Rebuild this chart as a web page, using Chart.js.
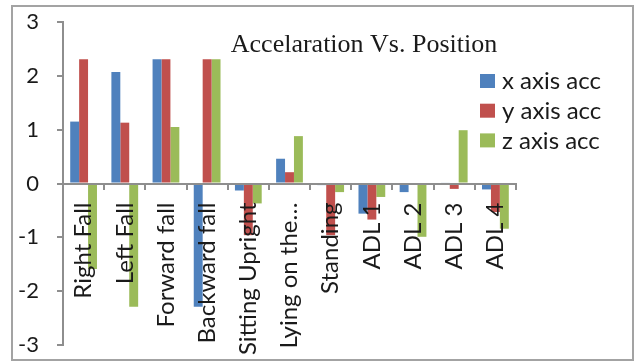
<!DOCTYPE html>
<html>
<head>
<meta charset="utf-8">
<script src="https://cdn.jsdelivr.net/npm/chart.js@4/dist/chart.umd.min.js"></script>
<style>
  html, body { margin: 0; padding: 0; background: #ffffff; }
  #wrap { width: 634px; height: 362px; }
</style>
</head>
<body>
<div id="wrap"><canvas id="c" width="634" height="362"></canvas></div>
<script>
// Categories (positions) and acceleration per axis
const positions = ['Right Fall', 'Left Fall', 'Forward fall', 'Backward fall', 'Sitting Upright',
  'Lying on the\u2026', 'Standing', 'ADL 1', 'ADL 2', 'ADL 3', 'ADL 4'];
const xAxisAcc = [1.15, 2.07, 2.31, -2.29, -0.13, 0.46, -0.03, -0.56, -0.16, 0.02, -0.11];
const yAxisAcc = [2.31, 1.13, 2.31, 2.31, -0.96, 0.21, -0.96, -0.67, -0.02, -0.10, -0.53];
const zAxisAcc = [-1.59, -2.29, 1.05, 2.31, -0.37, 0.88, -0.16, -0.25, -0.99, 0.99, -0.84];
const seriesNames = ['x axis acc', 'y axis acc', 'z axis acc'];
const seriesColors = ['#4F81BD', '#C0504D', '#9BBB59'];
const yTicks = [-3, -2, -1, 0, 1, 2, 3];
const chartTitle = 'Accelaration Vs. Position';

const axisGray = '#8e8e8e';
const sansFont = 'Lato, "Open Sans", sans-serif';

// Frame, title and legend drawn on the canvas
const decorations = {
  id: 'decorations',
  beforeDraw(chart) {
    const ctx = chart.ctx;
    ctx.save();
    ctx.fillStyle = '#ffffff';
    ctx.fillRect(0, 0, chart.width, chart.height);
    ctx.restore();
  },
  afterDraw(chart) {
    const ctx = chart.ctx;
    ctx.save();
    // outer frame
    ctx.strokeStyle = '#a3a3a3';
    ctx.lineWidth = 2;
    ctx.strokeRect(12, 6, 621, 354);
    // title
    ctx.fillStyle = '#1a1a1a';
    ctx.font = '26px "Liberation Serif", "Times New Roman", serif';
    ctx.textAlign = 'center';
    ctx.textBaseline = 'alphabetic';
    ctx.fillText(chartTitle, 364, 52);
    // legend
    ctx.font = '24px ' + sansFont;
    ctx.textAlign = 'left';
    ctx.textBaseline = 'middle';
    chart.data.datasets.forEach((ds, i) => {
      const top = 74 + i * 29.7;
      ctx.fillStyle = ds.backgroundColor;
      ctx.fillRect(480, top, 15, 14);
      ctx.fillStyle = '#1a1a1a';
      ctx.fillText(ds.label, 502, top + 7.5);
    });
    ctx.restore();
  }
};

new Chart(document.getElementById('c'), {
  type: 'bar',
  data: {
    labels: positions,
    datasets: [
      { label: seriesNames[0], data: xAxisAcc, backgroundColor: seriesColors[0] },
      { label: seriesNames[1], data: yAxisAcc, backgroundColor: seriesColors[1] },
      { label: seriesNames[2], data: zAxisAcc, backgroundColor: seriesColors[2] }
    ]
  },
  options: {
    responsive: false,
    animation: false,
    layout: { padding: { left: 0, top: 22, right: 118, bottom: 17 } },
    datasets: { bar: { barPercentage: 1.0, categoryPercentage: 0.65 } },
    plugins: {
      legend: { display: false },
      title: { display: false },
      tooltip: { enabled: false }
    },
    scales: {
      x: {
        position: { y: 0 },
        offset: true,
        grid: {
          offset: true,
          drawOnChartArea: false,
          drawTicks: true,
          tickLength: 5,
          color: axisGray,
          lineWidth: 2
        },
        border: { display: true, color: axisGray, width: 2, z: 1 },
        ticks: {
          z: 1,
          autoSkip: false,
          minRotation: 90,
          maxRotation: 90,
          padding: 14,
          color: '#1a1a1a',
          font: { family: sansFont, size: 24 }
        }
      },
      y: {
        min: -3,
        max: 3,
        afterBuildTicks(scale) {
          scale.ticks = yTicks.map(v => ({ value: v }));
        },
        afterFit(scale) {
          scale.width = 63;
          scale.paddingTop = 0;
          scale.paddingBottom = 0;
        },
        grid: {
          drawOnChartArea: false,
          drawTicks: true,
          tickLength: 6,
          color: axisGray,
          lineWidth: 2
        },
        border: { display: true, color: axisGray, width: 2 },
        ticks: {
          padding: 18,
          color: '#1a1a1a',
          font: { family: sansFont, size: 22 }
        }
      }
    }
  },
  plugins: [decorations]
});
</script>
</body>
</html>
